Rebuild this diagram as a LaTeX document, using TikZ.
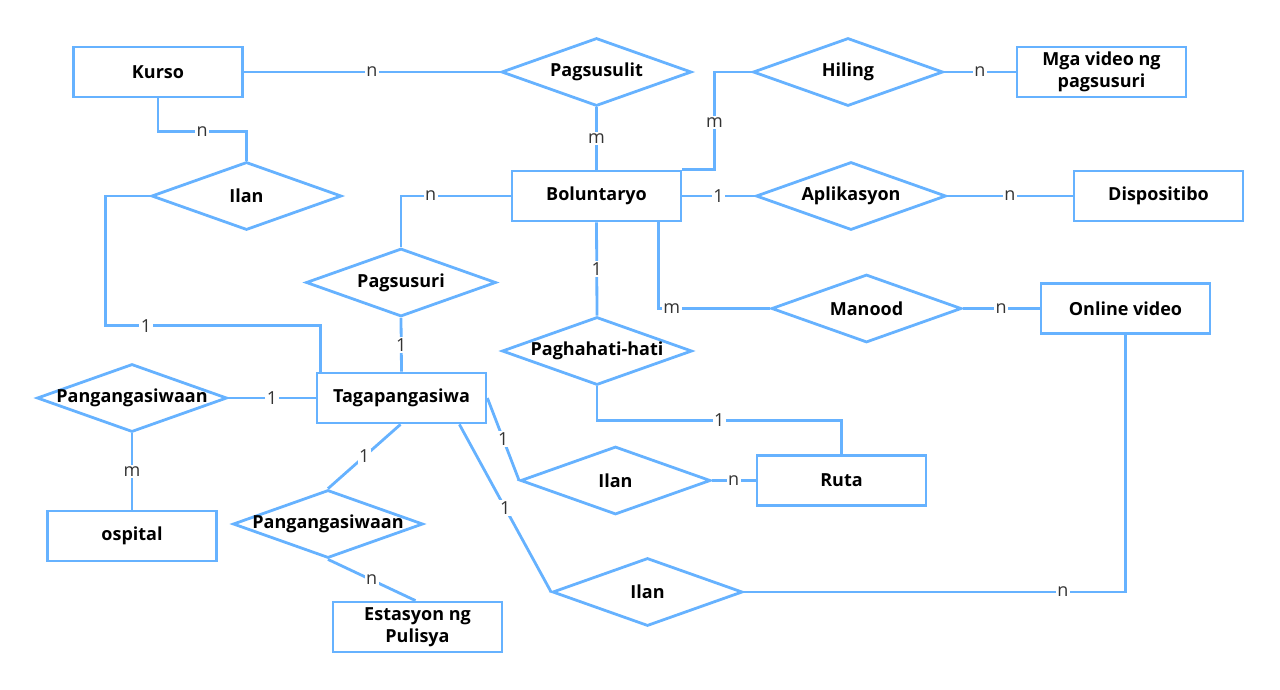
\documentclass[tikz,border=0pt]{standalone}
\usepackage{fontspec}
\setmainfont{Open Sans}
\usetikzlibrary{shapes.geometric,calc}
\definecolor{erblue}{RGB}{102,178,255}
\definecolor{lblgray}{RGB}{51,51,51}
\tikzset{
  entity/.style={draw=erblue, line width=2.8pt, fill=white, minimum width=169pt, minimum height=50pt, inner sep=0pt, font=\bfseries\fontsize{18}{22}\selectfont, align=center},
  rel/.style={draw=erblue, line width=2.8pt, shape=diamond, minimum width=190pt, minimum height=68pt, inner sep=0pt},
  reltext/.style={font=\bfseries\fontsize{18}{22}\selectfont},
  conn/.style={draw=erblue, line width=2.8pt},
  lbl/.style={fill=white, inner sep=1.5pt, text=lblgray, font=\fontsize{18}{20}\selectfont}
}
\begin{document}
\begin{tikzpicture}[x=1pt,y=-1pt]
\useasboundingbox (0,0) rectangle (1280,689);
% entities
\node[entity] (kurso) at (158,72) {Kurso};
\node[entity] (mga) at (1101.5,72) {Mga video ng\\pagsusuri};
\node[entity] (bol) at (596.5,196) {Boluntaryo};
\node[entity] (disp) at (1158.5,196) {Dispositibo};
\node[entity] (online) at (1125.5,308.5) {Online video};
\node[entity] (tag) at (401.5,398) {Tagapangasiwa};
\node[entity] (ospital) at (132,536) {ospital};
\node[entity] (ruta) at (841.5,480.5) {Ruta};
\node[entity] (est) at (417.5,627) {Estasyon ng\\Pulisya};
% relations
\node[rel, label={[reltext]center:Pagsusulit}] (pagsusulit) at (596.5,72) {};
\node[rel, label={[reltext]center:Hiling}] (hiling) at (848,72) {};
\node[rel, label={[reltext]center:Ilan}] (ilan1) at (246.5,196) {};
\node[rel, label={[reltext]center:Aplikasyon}] (aplik) at (851,196) {};
\node[rel, label={[reltext]center:Pagsusuri}] (pagsusuri) at (401,282.5) {};
\node[rel, label={[reltext]center:Manood}] (manood) at (866.5,308.5) {};
\node[rel, label={[reltext]center:Paghahati-hati}] (pagh) at (597,351) {};
\node[rel, label={[reltext]center:Pangangasiwaan}] (pang1) at (132,398) {};
\node[rel, label={[reltext]center:Pangangasiwaan}] (pang2) at (328,524) {};
\node[rel, label={[reltext]center:Ilan}] (ilan2) at (615.5,480.5) {};
\node[rel, label={[reltext]center:Ilan}] (ilan3) at (647.5,592) {};
% connectors
\draw[conn] (kurso.east) -- node[lbl]{n} (pagsusulit.west);
\draw[conn] (kurso.south) -- ++(0,33) -| node[lbl,pos=0.25]{n} (ilan1.north);
\draw[conn] (ilan1.west) -- ++(-45,0) |- node[lbl,pos=0.595]{1} ($(tag.north west)+(5,-46)$) -- ($(tag.north west)+(5,0)$);
\draw[conn] (pagsusulit.south) -- node[lbl]{m} (bol.north);
\draw[conn] (bol.north east) -- ++(32,0) |- node[lbl,pos=0.24]{m} (hiling.west);
\draw[conn] (bol.east) -- node[lbl]{1} (aplik.west);
\draw[conn] (aplik.east) -- node[lbl]{n} (disp.west);
\draw[conn] (hiling.east) -- node[lbl]{n} (mga.west);
\draw[conn] (bol.west) -| node[lbl,pos=0.365]{n} (pagsusuri.north);
\draw[conn] (pagsusuri.south) -- node[lbl]{1} (tag.north);
\draw[conn] (bol.south) -- node[lbl]{1} (pagh.north);
\draw[conn] ($(bol.south east)+(-24,0)$) |- node[lbl,pos=0.56]{m} (manood.west);
\draw[conn] (manood.east) -- node[lbl]{n} (online.west);
\draw[conn] (pagh.south) -- ++(0,34) -| node[lbl,pos=0.25]{1} (ruta.north);
\draw[conn] (pang1.east) -- node[lbl]{1} (tag.west);
\draw[conn] (pang1.south) -- node[lbl]{m} (ospital.north);
\draw[conn] ($(tag.south)+(-1,0)$) -- node[lbl]{1} (pang2.north);
\draw[conn] (pang2.south) -- node[lbl]{n} ($(est.north)+(-2,0)$);
\draw[conn] (tag.east) -- node[lbl]{1} (ilan2.west);
\draw[conn] (ilan2.east) -- node[lbl]{n} (ruta.west);
\draw[conn] ($(tag.south east)+(-28,0)$) -- node[lbl]{1} (ilan3.west);
\draw[conn] (ilan3.east) -| node[lbl,pos=0.418]{n} (online.south);
\end{tikzpicture}
\end{document}
